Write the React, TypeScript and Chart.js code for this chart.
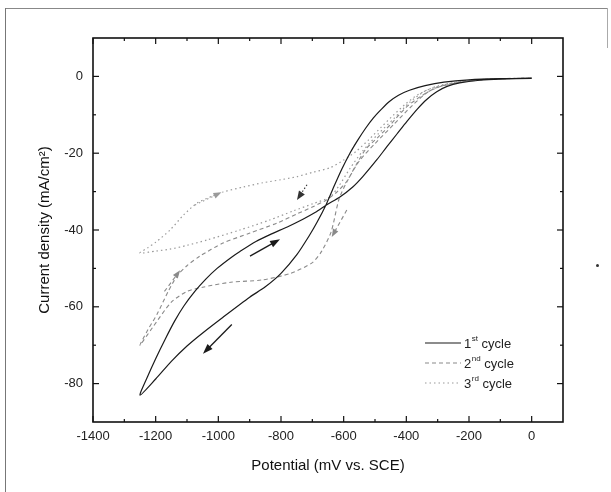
import React, { useEffect, useRef } from 'react';
import { Chart, registerables } from 'chart.js';

Chart.register(...registerables);

// ---- axis ticks ----
const xTickValues = [-1400, -1200, -1000, -800, -600, -400, -200, 0];
const xMinorTicks = [-1300, -1100, -900, -700, -500, -300, -100];
const yTickValues = [-80, -60, -40, -20, 0];
const yMinorTicks = [-70, -50, -30, -10];

// ---- 1st cycle (solid) ----
const cycle1Potential = [0, -100, -200, -280, -340, -390, -425, -455, -480, -505, -530, -555, -580, -605, -630, -655, -685, -710, -750, -800, -850, -900, -985, -1050, -1100, -1150, -1200, -1250,
  -1225, -1200, -1170, -1140, -1110, -1075, -1040, -1004, -960, -931, -880, -830, -780, -730, -690, -655, -612, -571, -539, -494, -462, -430, -398, -365, -335, -303, -270, -230, -166, -100, 0];
const cycle1Current = [-0.5, -0.6, -0.9, -1.5, -2.4, -3.6, -4.9, -6.6, -8.6, -10.8, -13.5, -16.6, -20, -24, -28.5, -33.2, -38, -41.5, -46.5, -51.3, -54.8, -57.5, -62.7, -66.8, -70.2, -74.2, -78.8, -83,
  -78, -73.5, -68.5, -63.8, -59.8, -56, -52.8, -50, -47.2, -45.6, -43, -41, -39.2, -37.2, -35.4, -33.5, -31.4, -28.8, -26.1, -21.7, -18.3, -15, -11.7, -8.5, -6, -4, -2.6, -1.7, -1, -0.7, -0.5];

// ---- 2nd cycle (dashed) ----
const cycle2Potential = [0, -100, -200, -280, -330, -380, -440, -500, -550, -590, -615, -640, -670, -700, -770, -860, -960, -1050, -1100, -1150, -1210, -1250,
  -1225, -1196, -1160, -1132, -1100, -1059, -985, -899, -813, -749, -700, -655, -620, -590, -560, -530, -490, -450, -400, -350, -300, -200, -100, 0];
const cycle2Current = [-0.4, -0.6, -1.2, -2.4, -4.0, -7.5, -12.5, -17.5, -22, -27.5, -32, -40.5, -45.5, -48.5, -51.3, -53, -53.6, -54.9, -56, -58.8, -65.4, -70,
  -66, -62, -56, -52, -49.3, -46.8, -43.4, -40.8, -38.2, -35.8, -34, -32.2, -30, -27.3, -23, -19, -15.8, -12.5, -8, -5, -2.8, -1.1, -0.6, -0.5];

// ---- 3rd cycle (dotted) ----
const cycle3Potential = [0, -100, -200, -280, -340, -390, -440, -490, -540, -580, -615, -644, -700, -760, -836, -931, -1036, -1100, -1155, -1200, -1250,
  -1225, -1200, -1154, -1110, -1068, -1020, -985, -920, -858, -800, -749, -700, -644, -600, -560, -520, -480, -440, -400, -360, -300, -200, -100, 0];
const cycle3Current = [-0.5, -0.6, -1.1, -2.2, -3.8, -6.8, -11, -15, -19.5, -24, -28.5, -31.4, -33.2, -35, -37.4, -40, -42.6, -44, -45, -45.5, -46,
  -44.6, -43.2, -40, -36, -33, -31.2, -30.1, -28.8, -27.7, -26.9, -26.1, -25, -23.8, -21.8, -19.5, -16.5, -13.2, -10, -7, -4.6, -2.5, -1, -0.6, -0.5];

// ---- sweep-direction arrows (data coordinates: tail -> head), with cycle index ----
const arrowTailPotential = [-957, -899, -1075, -717, -590, -1172];
const arrowTailCurrent = [-64.6, -46.8, -33.5, -28.2, -34.8, -56];
const arrowHeadPotential = [-1049, -803, -990, -749, -638, -1122];
const arrowHeadCurrent = [-72.2, -42.4, -30.2, -32.2, -41.8, -50.5];
const arrowCycle = [0, 0, 2, 3, 1, 1];

// ---- legend ----
const legendNumbers = ['1', '2', '3'];
const legendSuffixes = ['st', 'nd', 'rd'];
const legendWord = ' cycle';

const FONT = '"Liberation Sans", Arial, Helvetica, sans-serif';

const toPoints = (xs: number[], ys: number[]) => xs.map((v, i) => ({ x: v, y: ys[i] }));

const lineStyles = [
  { color: '#1a1a1a', dash: [] as number[], width: 1.2, head: 10, half: 3.5 },
  { color: '#8a8a8a', dash: [4, 3], width: 1.1, head: 8, half: 3 },
  { color: '#9a9a9a', dash: [1.5, 3], width: 1.2, head: 8, half: 3 },
  { color: '#333333', dash: [1.5, 2], width: 1.1, head: 9, half: 3.5 },
];

const decorPlugin = {
  id: 'decor',
  afterDatasetsDraw(chart: any) {
    const { ctx, chartArea: a, scales } = chart;
    const x = scales.x;
    const y = scales.y;
    ctx.save();
    const seg = (x1: number, y1: number, x2: number, y2: number) => {
      ctx.beginPath();
      ctx.moveTo(x1, y1);
      ctx.lineTo(x2, y2);
      ctx.stroke();
    };
    // frame
    ctx.strokeStyle = '#111';
    ctx.lineWidth = 1.6;
    ctx.setLineDash([]);
    ctx.strokeRect(a.left, a.top, a.right - a.left, a.bottom - a.top);
    // inward ticks on all four sides
    ctx.lineWidth = 1.2;
    const xt = (v: number, len: number) => {
      const p = x.getPixelForValue(v);
      seg(p, a.bottom, p, a.bottom - len);
      seg(p, a.top, p, a.top + len);
    };
    const yt = (v: number, len: number) => {
      const p = y.getPixelForValue(v);
      seg(a.left, p, a.left + len, p);
      seg(a.right, p, a.right - len, p);
    };
    xTickValues.forEach((v) => xt(v, 6));
    xMinorTicks.forEach((v) => xt(v, 3));
    yTickValues.forEach((v) => yt(v, 6));
    yMinorTicks.forEach((v) => yt(v, 3));

    // arrows
    arrowTailPotential.forEach((_, i) => {
      const st = lineStyles[arrowCycle[i]];
      const x1 = x.getPixelForValue(arrowTailPotential[i]);
      const y1 = y.getPixelForValue(arrowTailCurrent[i]);
      const x2 = x.getPixelForValue(arrowHeadPotential[i]);
      const y2 = y.getPixelForValue(arrowHeadCurrent[i]);
      const ang = Math.atan2(y2 - y1, x2 - x1);
      const hl = st.head;
      const hw = st.half;
      ctx.strokeStyle = st.color;
      ctx.fillStyle = st.color;
      ctx.lineWidth = arrowCycle[i] === 0 ? 1.3 : 1.1;
      ctx.setLineDash(st.dash);
      seg(x1, y1, x2 - Math.cos(ang) * hl * 0.8, y2 - Math.sin(ang) * hl * 0.8);
      ctx.setLineDash([]);
      ctx.beginPath();
      ctx.moveTo(x2, y2);
      ctx.lineTo(x2 - Math.cos(ang) * hl + Math.sin(ang) * hw, y2 - Math.sin(ang) * hl - Math.cos(ang) * hw);
      ctx.lineTo(x2 - Math.cos(ang) * hl - Math.sin(ang) * hw, y2 - Math.sin(ang) * hl + Math.cos(ang) * hw);
      ctx.closePath();
      ctx.fill();
    });

    // legend
    const lx = a.right - 138;
    const ly = a.bottom - 79;
    legendNumbers.forEach((n, i) => {
      const st = lineStyles[i];
      const yy = ly + i * 20;
      ctx.strokeStyle = st.color;
      ctx.lineWidth = st.width;
      ctx.setLineDash(st.dash);
      seg(lx, yy, lx + 36, yy);
      ctx.setLineDash([]);
      ctx.fillStyle = '#222';
      ctx.textBaseline = 'middle';
      ctx.textAlign = 'left';
      ctx.font = `13px ${FONT}`;
      let tx = lx + 39;
      ctx.fillText(n, tx, yy + 1);
      tx += ctx.measureText(n).width + 0.5;
      ctx.font = `8px ${FONT}`;
      ctx.fillText(legendSuffixes[i], tx, yy - 4);
      tx += ctx.measureText(legendSuffixes[i]).width;
      ctx.font = `13px ${FONT}`;
      ctx.fillText(legendWord, tx, yy + 1);
    });
    ctx.restore();
  },
};

export default function App() {
  const ref = useRef<HTMLCanvasElement | null>(null);
  useEffect(() => {
    if (!ref.current) return;
    const series = [
      { label: '1st cycle', data: toPoints(cycle1Potential, cycle1Current) },
      { label: '2nd cycle', data: toPoints(cycle2Potential, cycle2Current) },
      { label: '3rd cycle', data: toPoints(cycle3Potential, cycle3Current) },
    ];
    const chart = new Chart(ref.current, {
      type: 'scatter',
      data: {
        datasets: series.map((s, i) => ({
          label: s.label,
          data: s.data,
          showLine: true,
          pointRadius: 0,
          borderColor: lineStyles[i].color,
          borderWidth: lineStyles[i].width,
          borderDash: lineStyles[i].dash,
          tension: 0.25,
          fill: false,
        })),
      },
      options: {
        animation: false,
        responsive: false,
        devicePixelRatio: 1,
        layout: { padding: { left: 0, top: 38, right: 48, bottom: 0 } },
        plugins: { legend: { display: false }, tooltip: { enabled: false } },
        scales: {
          x: {
            type: 'linear',
            position: 'bottom',
            min: -1400,
            max: 100,
            afterBuildTicks: (s: any) => { s.ticks = xTickValues.map((v) => ({ value: v })); },
            afterFit: (s: any) => { s.height = 70; },
            grid: { display: false, drawTicks: false },
            border: { display: false },
            ticks: { padding: 7, color: '#222', font: { family: FONT, size: 13 }, maxRotation: 0, autoSkip: false, callback: (v: any) => String(v) },
            title: { display: true, text: 'Potential (mV vs. SCE)', color: '#111', font: { family: FONT, size: 15 }, padding: { top: 0, bottom: 17 } },
          },
          y: {
            type: 'linear',
            position: 'left',
            min: -90,
            max: 10,
            afterBuildTicks: (s: any) => { s.ticks = yTickValues.map((v) => ({ value: v })); },
            afterFit: (s: any) => { s.width = 93; },
            grid: { display: false, drawTicks: false },
            border: { display: false },
            ticks: { padding: 10, color: '#222', font: { family: FONT, size: 13 }, autoSkip: false, callback: (v: any) => String(v) },
            title: { display: true, text: 'Current density (mA/cm²)', color: '#111', font: { family: FONT, size: 15 }, padding: { top: 36, bottom: 0 } },
          },
        },
      },
      plugins: [decorPlugin],
    } as any);
    return () => chart.destroy();
  }, []);

  return (
    <div style={{ position: 'absolute', left: 0, top: 0, width: 611, height: 492, background: '#fff', overflow: 'hidden' }}>
      <canvas ref={ref} width={611} height={492} style={{ display: 'block', width: 611, height: 492 }} />
      <div style={{ position: 'absolute', left: 5, top: 8, width: 602, height: 1, background: '#888' }} />
      <div style={{ position: 'absolute', left: 5, top: 8, width: 1, height: 484, background: '#777' }} />
      <div style={{ position: 'absolute', left: 607, top: 8, width: 1, height: 40, background: '#aaa' }} />
      <div style={{ position: 'absolute', left: 596, top: 264, width: 3, height: 3, background: '#333', borderRadius: 2 }} />
    </div>
  );
}
